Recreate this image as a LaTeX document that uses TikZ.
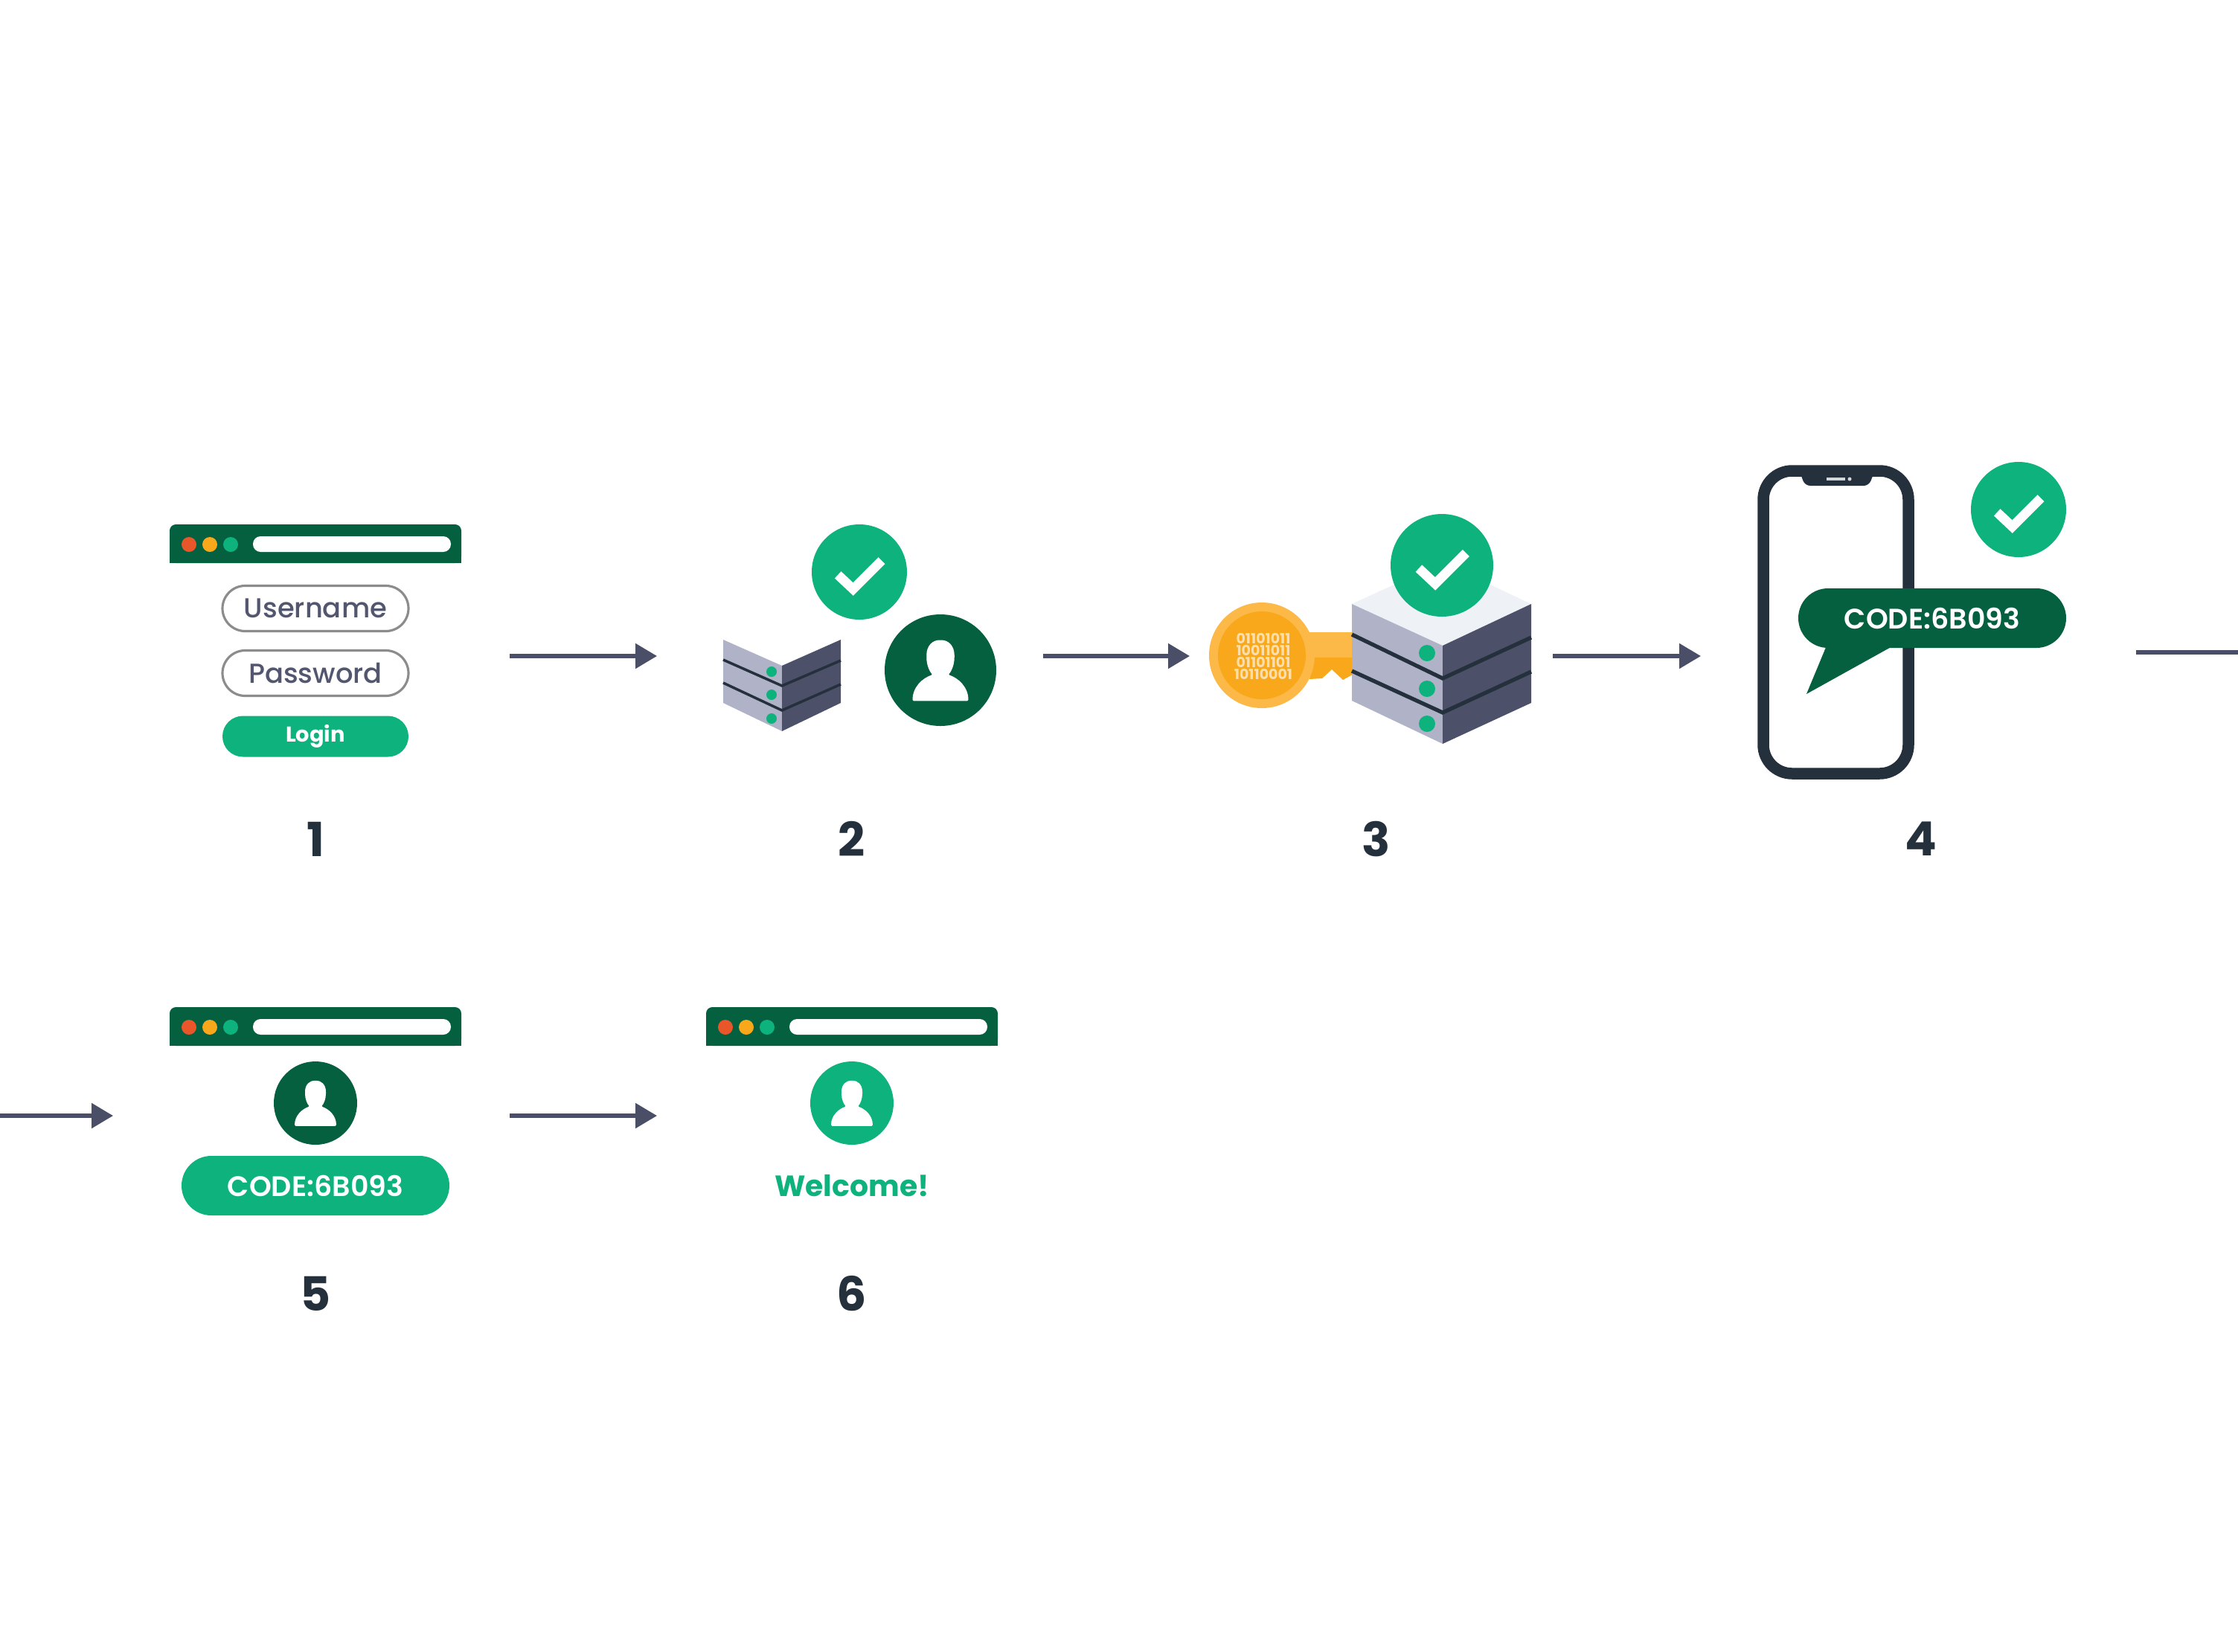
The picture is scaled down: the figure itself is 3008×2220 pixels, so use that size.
\documentclass[tikz,border=0pt]{standalone}
\usepackage{fontspec}
\setmainfont{Poppins}
\newfontfamily\pmed{Poppins Medium}
\newfontfamily\psemi{Poppins SemiBold}
\usetikzlibrary{arrows.meta,shapes.misc}
\definecolor{dgreen}{HTML}{05603F}
\definecolor{lgreen}{HTML}{0DB27C}
\definecolor{slateline}{HTML}{4A4F67}
\definecolor{inkdark}{HTML}{25303D}
\definecolor{svlight}{HTML}{B0B3C7}
\definecolor{svdark}{HTML}{4D5069}
\definecolor{svtop}{HTML}{EEF1F6}
\definecolor{keyin}{HTML}{F9A81C}
\definecolor{keyout}{HTML}{FCB947}
\definecolor{dotred}{HTML}{E8562A}
\definecolor{pilltext}{HTML}{52566E}
\tikzset{
  flowarrow/.style={draw=slateline,line width=1.5pt,-{Triangle[length=29*0.01cm,width=33*0.01cm]}},
  pillnode/.style={rounded rectangle,inner sep=0pt,minimum width=#1*0.01cm},
  outlinepill/.style={pillnode=250,draw=black!45,line width=0.9pt,fill=white,minimum height=61*0.01cm,text=pilltext,font=\pmed\fontsize{10.5}{12}\selectfont},
  loginpill/.style={pillnode=250,fill=lgreen,minimum height=55*0.01cm,text=white,font=\bfseries\fontsize{8.2}{10}\selectfont},
  codepill/.style={pillnode=360,minimum height=80*0.01cm,text=white,font=\psemi\fontsize{10.8}{12}\selectfont},
  stepnum/.style={text=inkdark,inner sep=0pt,font=\bfseries\fontsize{18}{20}\selectfont},
  bintext/.style={text=#1,inner sep=0pt,font=\bfseries\fontsize{5.4}{6}\selectfont}
}
% browser bar, left edge #1, top #2
\newcommand{\browserbar}[2]{%
  \begin{scope}[shift={(#1,#2)}]
    \fill[dgreen,rounded corners=2.4pt] (0,52) -- (0,0) -- (392,0) -- (392,52) -- cycle;
    \fill[dgreen] (0,30) rectangle (392,52);
    \fill[dotred] (26,27) circle[radius=10];
    \fill[keyin] (54,27) circle[radius=10];
    \fill[lgreen] (82,27) circle[radius=10];
    \fill[white,rounded corners=2.9pt] (112,16) rectangle (378,37);
  \end{scope}}
% check badge: centre, radius
\newcommand{\checkbadge}[3]{%
  \begin{scope}[shift={(#1,#2)},scale=#3]
    \fill[lgreen] (0,0) circle[radius=1];
    \draw[white,line width=3.6pt] (-.45,.06) -- (-.13,.36) -- (.47,-.24);
  \end{scope}}
% person badge: centre, radius, colour
\newcommand{\personbadge}[4]{%
  \begin{scope}[shift={(#1,#2)},scale=#3]
    \fill[#4] (0,0) circle[radius=1];
    \fill[white,rounded corners=0.4pt] (-.5,.55) .. controls (-.5,.3) and (-.32,.14) .. (-.14,.08)
      .. controls (-.2,.02) and (-.25,-.1) .. (-.25,-.25)
      .. controls (-.25,-.45) and (-.13,-.54) .. (0,-.54)
      .. controls (.13,-.54) and (.25,-.45) .. (.25,-.25)
      .. controls (.25,-.1) and (.2,.02) .. (.14,.08)
      .. controls (.32,.14) and (.5,.3) .. (.5,.55) -- cycle;
  \end{scope}}
\begin{document}
\begin{tikzpicture}[x=0.01cm,y=-0.01cm]
\useasboundingbox (0,0) rectangle (3008,2220);
\fill[white] (0,0) rectangle (3008,2220);

% ---- step 1
\browserbar{228}{705}
\node[outlinepill] (username) at (424,818) {\raisebox{-1.0pt}{Username}};
\node[outlinepill] (password) at (424,905) {\raisebox{-0.4pt}{Password}};
\node[loginpill] (login) at (424,990) {\raisebox{-0.6pt}{Login}};
\node[stepnum] (n1) at (424,1128) {1};

% ---- step 2
\begin{scope}
  \fill[svlight] (972,860) -- (1051,895) -- (1051,983) -- (972,945) -- cycle;
  \fill[svdark] (1051,895) -- (1130,860) -- (1130,945) -- (1051,983) -- cycle;
  \draw[inkdark,line width=1pt] (972,887) -- (1051,922) -- (1130,888);
  \draw[inkdark,line width=1pt] (972,918) -- (1051,955) -- (1130,920);
  \foreach \yy in {903,934,966} \fill[lgreen] (1037,\yy) circle[radius=7];
\end{scope}
\checkbadge{1155}{769}{64}
\personbadge{1264}{901}{75}{dgreen}
\node[stepnum] (n2) at (1145,1128) {2};

% ---- step 3
\fill[keyout] (1740,850) rectangle (1825,884);
\fill[keyin] (1765,884) -- (1825,884) -- (1825,903) -- (1805,914) -- (1790,900) -- (1777,912) -- (1760,913) -- cycle;
\fill[keyout] (1696,881) circle[radius=71];
\fill[keyin] (1696,881) circle[radius=59];
\node[bintext=keyout!45!white] (b1) at (1698,858) {01101011};
\node[bintext=keyout!45!white] (b2) at (1698,874) {10011011};
\node[bintext=keyout!45!white] (b3) at (1698,890) {01101101};
\node[bintext=keyout!45!white] (b4) at (1698,906) {10110001};
\fill[svtop] (1817,812) -- (1939,756) -- (2058,812) -- (1939,868) -- cycle;
\fill[svlight] (1817,812) -- (1939,868) -- (1939,1000) -- (1817,942) -- cycle;
\fill[svdark] (1939,868) -- (2058,812) -- (2058,945) -- (1939,1000) -- cycle;
\draw[inkdark,line width=1.5pt] (1817,853) -- (1939,912) -- (2058,857);
\draw[inkdark,line width=1.5pt] (1817,902) -- (1939,958) -- (2058,903);
\foreach \yy in {878,926,973} \fill[lgreen] (1918,\yy) circle[radius=11];
\checkbadge{1938}{760}{69}
\node[stepnum] (n3) at (1850,1128) {3};

% ---- step 4
\draw[inkdark,line width=4.4pt,rounded corners=11pt] (2370,633) rectangle (2565,1040);
\fill[inkdark,rounded corners=2pt] (2418,632) -- (2520,632) -- (2512,653) -- (2426,653) -- cycle;
\fill[white!80!inkdark] (2455,642) rectangle (2480,646);
\fill[white!80!inkdark] (2486,644) circle[radius=2.5];
\fill[dgreen] (2455,868) -- (2428,933) -- (2545,868) -- cycle;
\node[codepill,fill=dgreen] (code4) at (2597,831) {CODE:6B093};
\checkbadge{2713}{685}{64}
\node[stepnum] (n4) at (2582,1128) {4};

% ---- step 5
\browserbar{228}{1354}
\personbadge{424}{1483}{56}{dgreen}
\node[codepill,fill=lgreen] (code5) at (424,1594) {CODE:6B093};
\node[stepnum] (n5) at (424,1739) {5};

% ---- step 6
\browserbar{949}{1354}
\personbadge{1145}{1483}{56}{lgreen}
\node[text=lgreen,inner sep=0pt,font=\bfseries\fontsize{11.2}{12}\selectfont] (welcome) at (1145,1594) {Welcome!};
\node[stepnum] (n6) at (1145,1739) {6};

% ---- connectors
\coordinate (a1s) at (685,882); \coordinate (a1e) at (883,882);
\coordinate (a2s) at (1402,882); \coordinate (a2e) at (1599,882);
\coordinate (a3s) at (2087,882); \coordinate (a3e) at (2286,882);
\coordinate (a4s) at (2871,877); \coordinate (a4e) at (3008,877);
\coordinate (a5s) at (0,1500); \coordinate (a5e) at (152,1500);
\coordinate (a6s) at (685,1500); \coordinate (a6e) at (883,1500);
\draw[flowarrow] (a1s) -- (a1e);
\draw[flowarrow] (a2s) -- (a2e);
\draw[flowarrow] (a3s) -- (a3e);
\draw[slateline,line width=1.5pt] (a4s) -- (a4e);
\draw[flowarrow] (a5s) -- (a5e);
\draw[flowarrow] (a6s) -- (a6e);
\end{tikzpicture}
\end{document}
